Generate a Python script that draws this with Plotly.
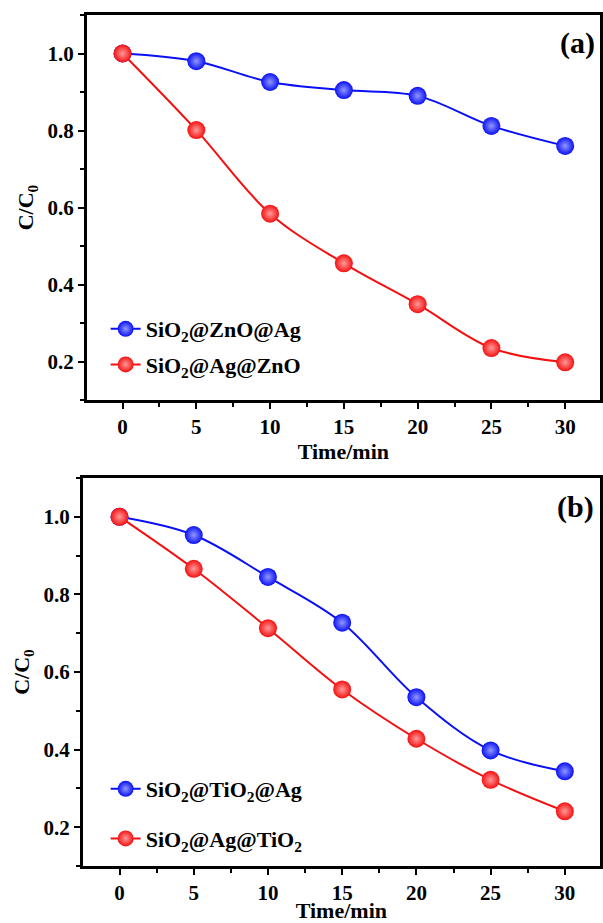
import plotly.graph_objects as go

time_min = [0, 5, 10, 15, 20, 25, 30]
a_znoag = [1.0, 0.980, 0.926, 0.905, 0.890, 0.812, 0.760]
a_agzno = [1.0, 0.801, 0.584, 0.455, 0.349, 0.235, 0.198]
b_tio2ag = [1.0, 0.953, 0.845, 0.727, 0.535, 0.398, 0.344]
b_agtio2 = [1.0, 0.866, 0.713, 0.555, 0.428, 0.322, 0.241]

names_a = ["SiO<sub>2</sub>@ZnO@Ag", "SiO<sub>2</sub>@Ag@ZnO"]
names_b = ["SiO<sub>2</sub>@TiO<sub>2</sub>@Ag", "SiO<sub>2</sub>@Ag@TiO<sub>2</sub>"]

BLUE = "#0a10f5"
RED = "#f51010"
FONT = "Liberation Serif, Times New Roman, serif"

def trace(y, name, color, light, xa, ya, legend, group):
    return go.Scatter(
        x=time_min, y=y, name=name, mode="lines+markers",
        xaxis=xa, yaxis=ya, legend=legend, legendgroup=group,
        line=dict(color=color, width=2, shape="spline", smoothing=1.0),
        marker=dict(size=18, color=color, line=dict(width=0),
                    gradient=dict(type="radial", color=light)),
    )

fig = go.Figure()
fig.add_trace(trace(a_znoag, names_a[0], BLUE, "#9098ff", "x", "y", "legend", "a1"))
fig.add_trace(trace(a_agzno, names_a[1], RED, "#ff9a9a", "x", "y", "legend", "a2"))
fig.add_trace(trace(b_tio2ag, names_b[0], BLUE, "#9098ff", "x2", "y2", "legend2", "b1"))
fig.add_trace(trace(b_agtio2, names_b[1], RED, "#ff9a9a", "x2", "y2", "legend2", "b2"))

W, H = 603, 923
tickfont = dict(family=FONT, size=21, color="black", weight="bold")
titlefont = dict(family=FONT, size=22, color="black", weight="bold")

def xaxis(dom, rng, anchor):
    return dict(domain=dom, range=rng, anchor=anchor, dtick=5, tick0=0,
                ticks="outside", ticklen=6, tickwidth=2, tickcolor="black",
                showline=True, linewidth=2.5, linecolor="black", mirror=True,
                showgrid=False, zeroline=False, tickfont=tickfont,
                minor=dict(dtick=2.5, tick0=0, ticks="outside", ticklen=4, tickwidth=2, tickcolor="black"),
                title=dict(text="Time/min", font=titlefont, standoff=0))

def yaxis(dom, anchor):
    return dict(domain=dom, range=[0.1, 1.1], anchor=anchor, dtick=0.2, tick0=0.2,
                tickformat=".1f",
                ticks="outside", ticklen=6, tickwidth=2, tickcolor="black",
                showline=True, linewidth=2.5, linecolor="black", mirror=True,
                showgrid=False, zeroline=False, tickfont=tickfont,
                minor=dict(dtick=0.1, tick0=0.1, ticks="outside", ticklen=4, tickwidth=2, tickcolor="black"),
                title=dict(text="C/C<sub>0</sub>", font=titlefont, standoff=8))

legfont = dict(family=FONT, size=22, color="black", weight="bold")

fig.update_layout(
    width=W, height=H, margin=dict(l=0, r=0, t=0, b=0),
    paper_bgcolor="white", plot_bgcolor="white",
    xaxis=xaxis([87 / W, 602 / W], [-2.43, 32.36], "y"),
    yaxis=yaxis([1 - 400 / H, 1 - 15 / H], "x"),
    xaxis2=xaxis([83 / W, 602 / W], [-2.48, 32.37], "y2"),
    yaxis2=yaxis([1 - 866 / H, 1 - 478 / H], "x2"),
    legend=dict(x=106 / W, y=1 - 308 / H, xanchor="left", yanchor="top",
                bgcolor="rgba(0,0,0,0)", font=legfont, tracegroupgap=4,
                traceorder="grouped"),
    legend2=dict(x=106 / W, y=1 - 768 / H, xanchor="left", yanchor="top",
                 bgcolor="rgba(0,0,0,0)", font=legfont, tracegroupgap=18,
                 traceorder="grouped"),
    annotations=[
        dict(text="(a)", x=579 / W, y=1 - 43 / H, xref="paper", yref="paper",
             xanchor="center", yanchor="middle",
             showarrow=False, font=dict(family=FONT, size=30, color="black", weight="bold")),
        dict(text="(b)", x=577 / W, y=1 - 507 / H, xref="paper", yref="paper",
             xanchor="center", yanchor="middle",
             showarrow=False, font=dict(family=FONT, size=30, color="black", weight="bold")),
    ],
)

fig.write_html("out.html")
